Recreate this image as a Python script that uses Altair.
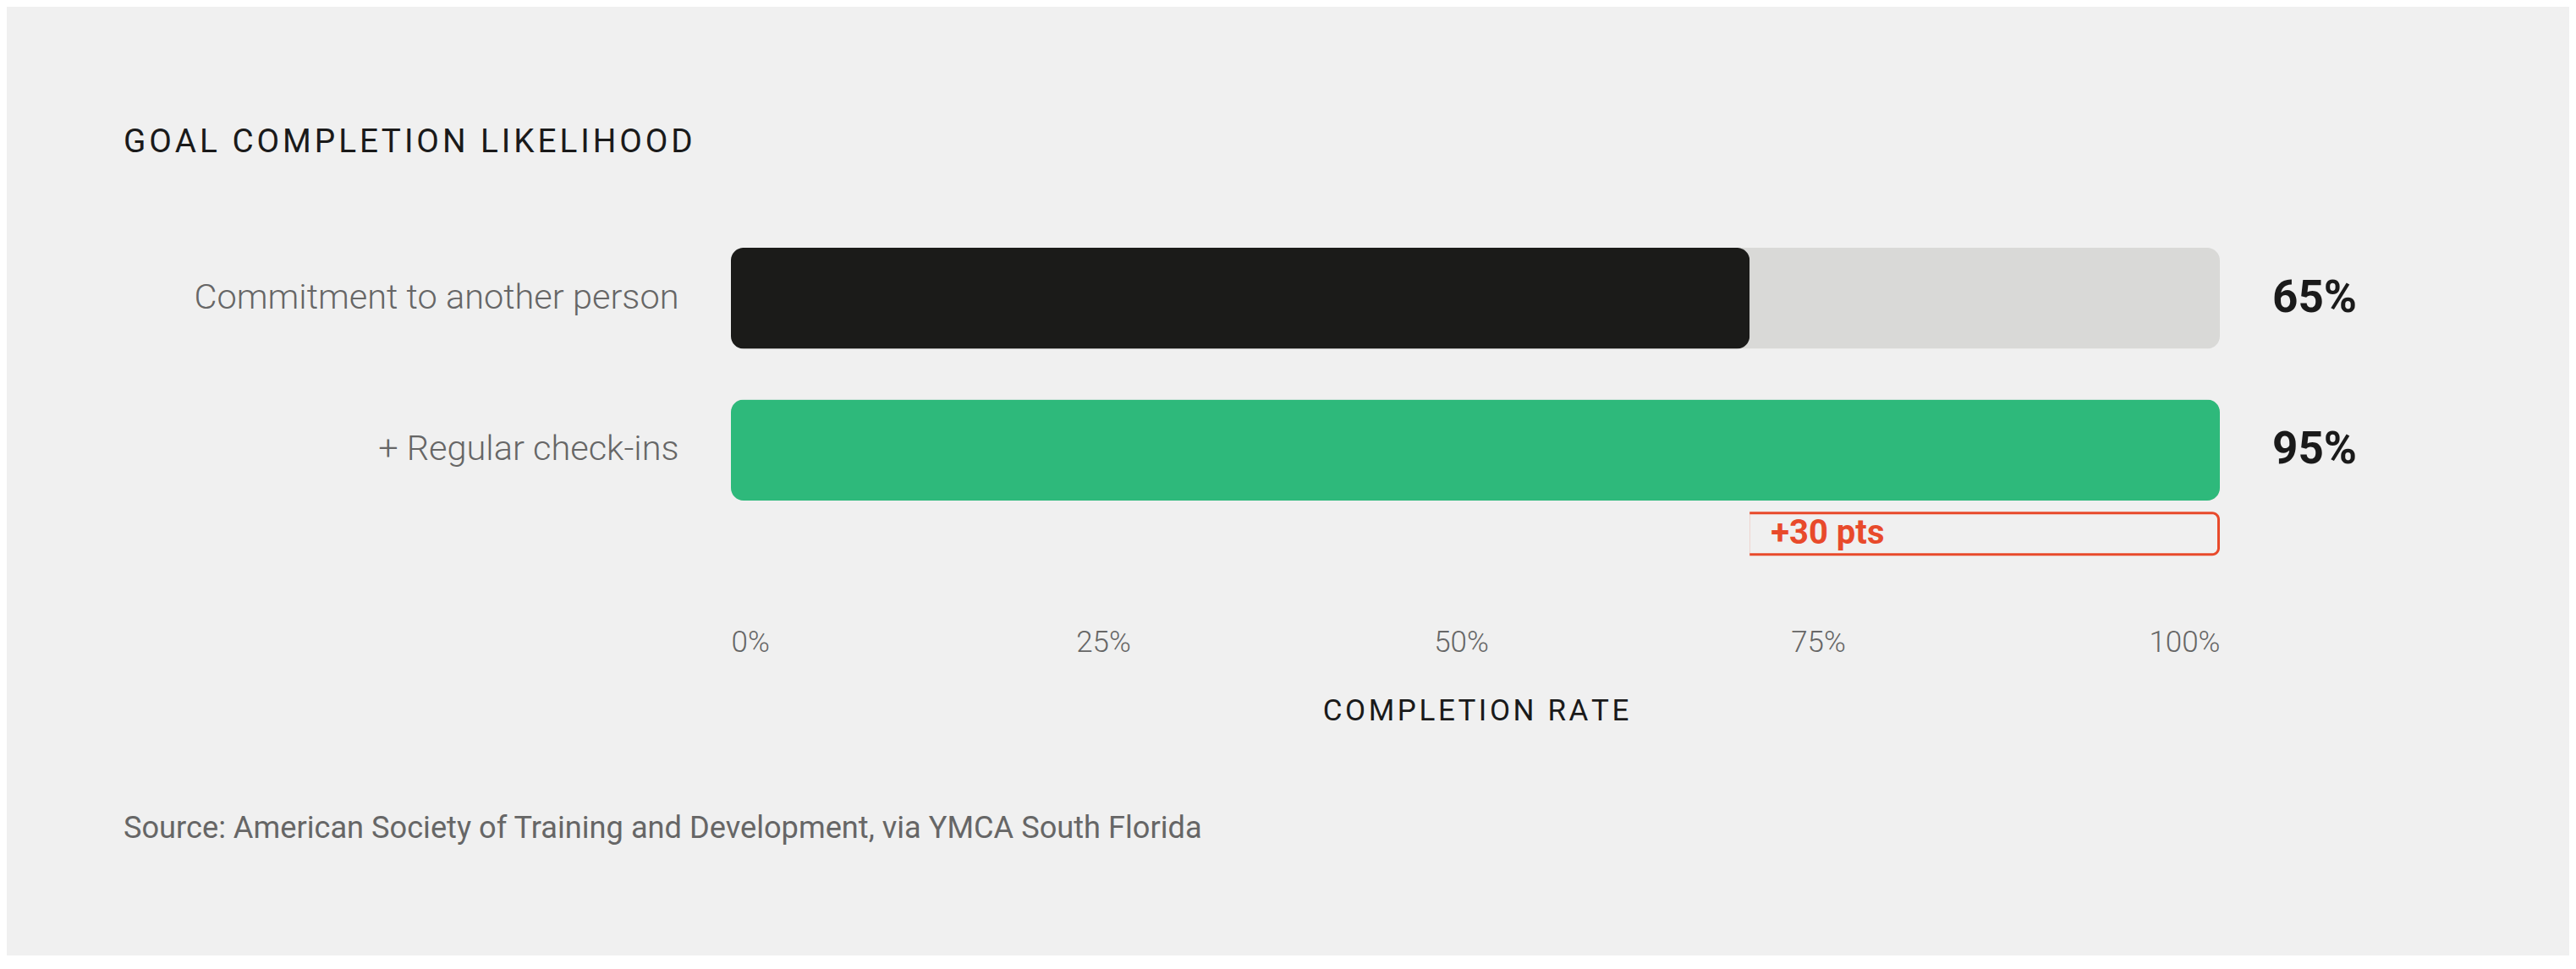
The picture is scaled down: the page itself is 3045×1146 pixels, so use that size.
import altair as alt
import pandas as pd

# data
categories = ["Commitment to another person", "+ Regular check-ins"]
rates = [65, 95]
bar_colors = ["#1b1b19", "#2eb97b"]
value_labels = ["65%", "95%"]
track_max = 95
tick_values = [0, 25, 50, 75, 100]
source_text = "Source: American Society of Training and Development, via YMCA South Florida"

FONT = "Roboto"
BG = "#f0f0f0"
RED = "#e84a2b"
HS = "\u200a"


def spaced(s):
    return HS.join(s)


df = pd.DataFrame({
    "category": categories,
    "rate": rates,
    "color": bar_colors,
    "label": value_labels,
    "track": [track_max] * len(categories),
})

gain = pd.DataFrame({
    "category": [categories[1]],
    "start": [rates[0]],
    "end": [rates[1]],
    "label": [f"+{rates[1] - rates[0]} pts"],
})

axis_df = pd.DataFrame({"tick": tick_values})

y_enc = alt.Y(
    "category:N",
    sort=categories,
    scale=alt.Scale(paddingInner=0.334, paddingOuter=0.167),
    axis=alt.Axis(
        title=None, domain=False, ticks=False, labelPadding=62,
        labelFont=FONT, labelFontSize=41.5, labelColor="#666666",
        labelFontWeight=300, labelLimit=1000,
    ),
)
x_scale = alt.Scale(domain=[0, track_max], nice=False, zero=True)

base = alt.Chart(df)

track = base.mark_bar(cornerRadius=15, color="#d9d9d7").encode(
    x=alt.X("track:Q", scale=x_scale, axis=None),
    y=y_enc,
)

bars = base.mark_bar(cornerRadius=15).encode(
    x=alt.X("rate:Q", scale=x_scale, axis=None),
    y=y_enc,
    color=alt.Color("color:N", scale=None),
)

values = base.mark_text(
    align="left", dx=62, font=FONT, fontSize=53, fontWeight="bold",
    color="#1a1a1a", baseline="middle",
).encode(
    x=alt.X("track:Q", scale=x_scale, axis=None),
    y=y_enc,
    text="label:N",
)

gbase = alt.Chart(gain)
box_outer = gbase.mark_bar(
    height=52, yOffset=99, color=RED,
    cornerRadiusTopRight=9, cornerRadiusBottomRight=9,
).encode(
    x=alt.X("start:Q", scale=x_scale, axis=None),
    x2="end:Q",
    y=y_enc,
)
box_inner = gbase.mark_bar(
    height=46, yOffset=99, color=BG, x2Offset=-3,
    cornerRadiusTopRight=6, cornerRadiusBottomRight=6,
).encode(
    x=alt.X("start:Q", scale=x_scale, axis=None),
    x2="end:Q",
    y=y_enc,
)
gain_text = gbase.mark_text(
    align="left", dx=25, yOffset=99, baseline="middle", font=FONT,
    fontSize=40, fontWeight="bold", color=RED,
).encode(
    x=alt.X("start:Q", scale=x_scale, axis=None),
    y=y_enc,
    text="label:N",
)

axis_layer = alt.Chart(axis_df).mark_tick(opacity=0).encode(
    x=alt.X(
        "tick:Q",
        scale=alt.Scale(domain=[0, 100], nice=False),
        axis=alt.Axis(
            values=tick_values, format=".0f", labelExpr="datum.label + '%'",
            domain=False, ticks=False, grid=False, labelFlush=True,
            labelPadding=120, labelFont=FONT, labelFontSize=35,
            labelColor="#666666", labelFontWeight=300,
            labelOffset={"condition": [
                {"test": "datum.value == 50", "value": -17},
                {"test": "datum.value == 75", "value": -35},
            ], "value": 0},
            title=spaced("COMPLETION RATE"), titleFont=FONT, titleFontSize=35,
            titleFontWeight=400, titleColor="#1a1a1a", titlePadding=46,
        ),
    ),
)

source = alt.Chart(pd.DataFrame({"t": [source_text]})).mark_text(
    align="left", baseline="alphabetic", font=FONT, fontSize=36.2,
    color="#666666", fontWeight=400,
).encode(
    x=alt.value(-718), y=alt.value(728), text="t:N",
)

chart = (
    alt.layer(track, bars, values, box_outer, box_inner, gain_text, axis_layer, source)
    .resolve_scale(x="independent")
    .properties(
        width=1760,
        height=359,
        padding={"left": 856, "top": 255, "right": 413, "bottom": 508},
        autosize=alt.AutoSizeParams(type="none"),
        background=BG,
        title=alt.TitleParams(
            spaced("GOAL COMPLETION LIKELIHOOD"), anchor="start", frame="group",
            dx=-718, offset=44, font=FONT, fontSize=38.7, fontWeight=400,
            color="#1a1a1a", baseline="alphabetic",
        ),
    )
    .configure_view(stroke=None)
)

chart.save("out.html", embed_options={"renderer": "svg", "actions": False})
